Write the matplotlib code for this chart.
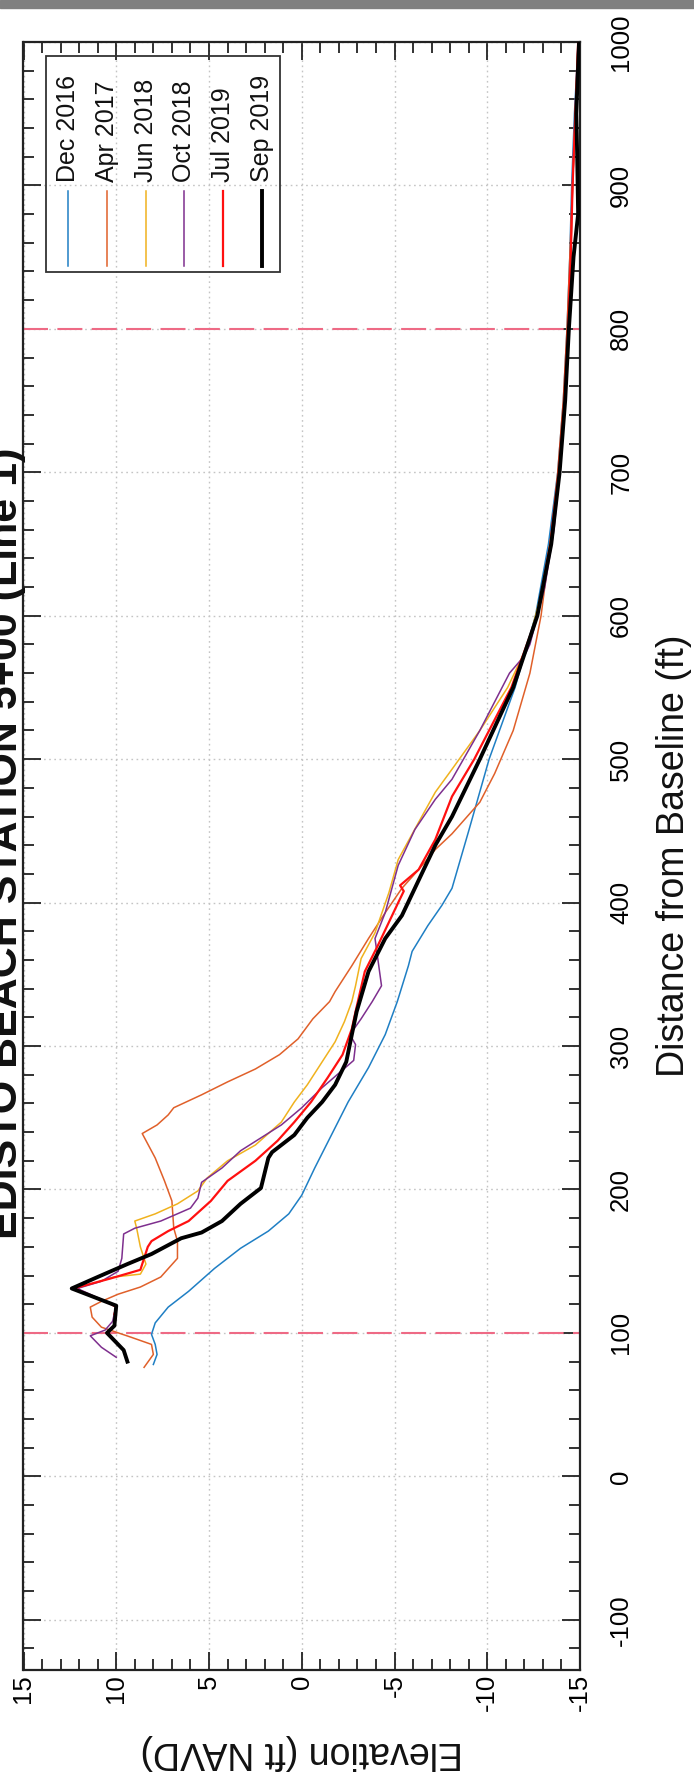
import numpy as np
import matplotlib
matplotlib.use("Agg")
import matplotlib.pyplot as plt
from matplotlib.patches import Rectangle

plt.rcParams['font.family'] = ['Liberation Sans', 'DejaVu Sans']
plt.rcParams['axes.unicode_minus'] = False

# ---------------- data ----------------
labels = ["Dec 2016", "Apr 2017", "Jun 2018", "Oct 2018", "Jul 2019", "Sep 2019"]
colors = ["#1f7fc4", "#e0602a", "#f0b21e", "#7e2f8e", "#ff1010", "#000000"]
widths = [1.1, 1.1, 1.1, 1.1, 1.6, 2.8]

dist_dec16 = [78, 85, 92, 99, 107, 118, 129, 145, 159, 171, 183, 196, 215, 238, 261, 285, 308, 331,
              356, 366, 384, 398, 410, 450, 500, 550, 600, 650, 700, 750, 800, 850, 900, 950, 1000]
elev_dec16 = [8.0, 7.8, 7.9, 8.1, 7.9, 7.2, 6.1, 4.7, 3.3, 1.8, 0.7, 0.0, -0.7, -1.6, -2.5, -3.6, -4.5, -5.15,
              -5.75, -5.95, -6.8, -7.55, -8.1, -9.0, -10.1, -11.5, -12.6, -13.3, -13.8, -14.1, -14.3, -14.45, -14.55, -14.7, -14.9]

dist_apr17 = [76, 85, 92, 97, 104, 111, 118, 122, 127, 132, 139, 152, 164, 173, 192, 206, 222, 239, 245, 252,
              257, 266, 275, 284, 294, 305, 319, 331, 338, 356, 375, 393, 410, 423, 437, 448, 470, 490, 520,
              560, 600, 650, 700, 750, 800, 850, 900, 950, 1000]
elev_apr17 = [8.5, 8.0, 8.1, 9.2, 10.8, 11.3, 11.4, 10.8, 9.9, 8.7, 7.6, 6.7, 6.7, 6.9, 7.0, 7.4, 7.9, 8.6, 7.8, 7.2,
              6.9, 5.4, 4.0, 2.5, 1.2, 0.2, -0.6, -1.5, -1.8, -2.7, -3.6, -4.5, -5.4, -6.3, -7.2, -8.1, -9.6, -10.4, -11.4,
              -12.3, -12.9, -13.4, -13.8, -14.1, -14.3, -14.45, -14.6, -14.75, -14.9]

dist_jun18 = [136, 139, 141, 148, 160, 173, 178, 183, 190, 199, 208, 220, 231, 247, 261, 273, 289, 303, 317, 331,
              342, 361, 379, 407, 430, 456, 477, 493, 520, 550, 580, 620, 660, 700, 750, 800, 850, 900, 950, 1000]
elev_jun18 = [10.9, 10.1, 8.7, 8.4, 8.7, 8.9, 9.0, 7.9, 6.7, 5.6, 5.1, 4.0, 2.5, 1.1, 0.4, -0.3, -1.1, -1.8, -2.3, -2.7,
              -2.9, -3.2, -3.95, -4.7, -5.2, -6.3, -7.2, -8.1, -9.6, -11.1, -12.2, -13.0, -13.5, -13.85, -14.15, -14.35, -14.5,
              -14.6, -14.75, -14.9]

dist_oct18 = [83, 90, 98, 102, 108, 119, 121, 131, 136, 143, 152, 169, 173, 178, 187, 194, 205, 215, 227, 236,
              245, 257, 271, 290, 301, 308, 319, 331, 342, 375, 393, 426, 451, 472, 486, 520, 560, 572, 580, 620,
              660, 700, 750, 800, 850, 900, 950, 1000]
elev_oct18 = [10.0, 10.8, 11.4, 10.6, 10.2, 10.0, 10.4, 12.1, 10.8, 9.9, 9.7, 9.6, 9.0, 7.6, 6.0, 5.6, 5.4, 4.3, 3.3, 2.2,
              1.1, 0.0, -1.1, -2.8, -2.9, -2.6, -3.2, -3.8, -4.3, -3.95, -4.5, -5.2, -6.1, -7.2, -8.1, -9.6, -11.2, -12.0,
              -12.3, -13.1, -13.6, -13.9, -14.2, -14.4, -14.5, -14.6, -14.75, -14.95]

dist_jul19 = [113, 118, 121, 131, 138, 144, 160, 164, 171, 178, 192, 206, 220, 234, 247, 261, 278, 294, 312, 324,
              352, 370, 400, 408, 412, 423, 444, 474, 500, 550, 600, 650, 700, 750, 800, 850, 900, 950, 1000]
elev_jul19 = [10.1, 10.0, 10.4, 12.3, 10.3, 8.7, 8.3, 8.1, 7.2, 6.1, 4.9, 4.0, 2.5, 1.3, 0.4, -0.5, -1.4, -2.2, -2.7, -2.9,
              -3.4, -4.1, -5.2, -5.5, -5.3, -6.3, -7.2, -8.1, -9.3, -11.3, -12.7, -13.4, -13.85, -14.15, -14.35, -14.5,
              -14.6, -14.75, -14.9]

dist_sep19 = [80, 88, 100, 105, 119, 121, 131, 139, 148, 155, 166, 170, 178, 190, 201, 222, 226, 238, 250, 261,
              273, 289, 308, 324, 352, 375, 391, 421, 440, 460, 500, 550, 600, 650, 700, 750, 800, 850, 880, 920,
              950, 1000]
elev_sep19 = [9.4, 9.6, 10.5, 10.1, 10.0, 10.4, 12.4, 11.0, 9.4, 8.1, 6.5, 5.4, 4.3, 3.3, 2.2, 1.8, 1.6, 0.4, -0.3, -1.1,
              -1.8, -2.4, -2.7, -2.96, -3.6, -4.5, -5.4, -6.5, -7.2, -8.1, -9.6, -11.4, -12.7, -13.45, -13.9, -14.2, -14.4,
              -14.65, -14.9, -14.85, -14.8, -14.95]

dists = [dist_dec16, dist_apr17, dist_jun18, dist_oct18, dist_jul19, dist_sep19]
elevs = [elev_dec16, elev_apr17, elev_jun18, elev_oct18, elev_jul19, elev_sep19]

ref_lines = [100, 800]
elev_ticks = [15, 10, 5, 0, -5, -10, -15]
dist_ticks = [-100, 0, 100, 200, 300, 400, 500, 600, 700, 800, 900, 1000]
title = "EDISTO BEACH STATION 5+00 (Line 1)"
xlabel = "Distance from Baseline (ft)"
ylabel = "Elevation (ft NAVD)"

# ---------------- figure (chart drawn rotated 90 deg) ----------------
W, H = 694, 1786
fig = plt.figure(figsize=(W / 100, H / 100), dpi=100)
L, R, T, B = 23.5, 580, 42, 1670
ax = fig.add_axes([L / W, 1 - B / H, (R - L) / W, (B - T) / H])

ax.set_xlim(15, -15)
ax.set_ylim(-135, 1000)
ax.set_xticks(elev_ticks)
ax.set_xticks(np.arange(-15, 16, 1), minor=True)
ax.set_yticks(dist_ticks)
ax.set_yticks(np.arange(-120, 1001, 20), minor=True)

ax.grid(True, which='major', linestyle=(0, (1.2, 2.5)), color='#c4c4c4', lw=1.0)
for r in ref_lines:
    ax.axhline(r, color='#ee6a85', lw=1.5, dashes=(12, 4.5), zorder=2)

for d, e, c, w in zip(dists, elevs, colors, widths):
    ax.plot(e, d, color=c, lw=w, zorder=3, solid_joinstyle='round')

for s in ax.spines.values():
    s.set_linewidth(1.6)
    s.set_color('#222222')

ax.tick_params(which='both', direction='in', top=True, right=True, left=True, bottom=True,
               labelleft=False, labelright=True, width=1.3, color='#222222')
ax.tick_params(which='major', length=13)
ax.tick_params(which='minor', length=8)
ax.tick_params(axis='x', labelrotation=90, pad=3, labelsize=18.5)
ax.tick_params(axis='y', labelrotation=90, pad=21, labelsize=18.5)
plt.setp(ax.get_yticklabels(), va='center', ha='left')

# ---------------- overlay in pixel coordinates ----------------
ov = fig.add_axes([0, 0, 1, 1], zorder=10)
ov.set_xlim(0, W)
ov.set_ylim(H, 0)
ov.axis('off')
ov.patch.set_alpha(0)

ov.add_patch(Rectangle((0, 0), W, 8, color='#808080', zorder=20))

ov.text(17, 843, title, rotation=90, rotation_mode='anchor', ha='center', va='baseline',
        fontsize=31, fontweight='bold', color='#111111')
ov.text(674, 856, xlabel, rotation=90, ha='center', va='center', fontsize=27, color='#111111')
ov.text(302, 1752, ylabel, rotation=180, ha='center', va='center', fontsize=27, color='#111111')

# legend (rotated)
ov.add_patch(Rectangle((46, 56), 234, 216, fill=False, ec='#333333', lw=1.3, zorder=11))
xs0, dx = 68, 38.8
for i, (lab, c, w) in enumerate(zip(labels, colors, widths)):
    xi = xs0 + i * dx
    ov.plot([xi, xi], [191, 266], color=c, lw=w, zorder=12)
    ov.text(xi, 182, lab, rotation=90, rotation_mode='anchor', ha='left', va='center',
            fontsize=18, color='#111111', zorder=12)

fig.savefig("out.png", dpi=100)
